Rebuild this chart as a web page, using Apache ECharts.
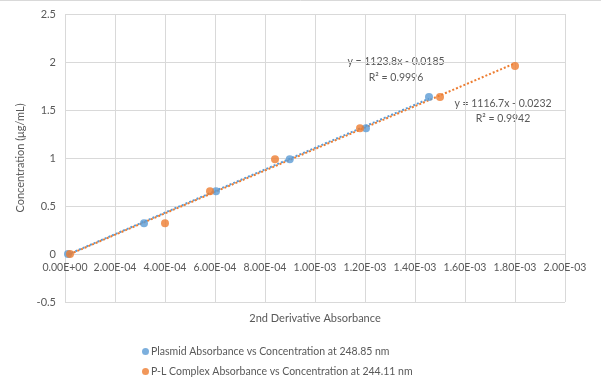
<!DOCTYPE html>
<html><head><meta charset="utf-8">
<script src="https://cdn.jsdelivr.net/npm/echarts@6/dist/echarts.min.js"></script>
<style>html,body{margin:0;padding:0;background:#fff}#c{width:601px;height:388px}</style>
</head><body><div id="c"></div>
<script>
const plasmidX = [1.2e-5, 3.16e-4, 6.04e-4, 8.99e-4, 1.204e-3, 1.456e-3];
const plasmidY = [0, 0.32, 0.654, 0.988, 1.31, 1.636];
const plX = [2.0e-5, 4.0e-4, 5.8e-4, 8.4e-4, 1.18e-3, 1.5e-3, 1.8e-3];
const plY = [0, 0.32, 0.654, 0.988, 1.31, 1.636, 1.958];
const plasmidFit = {slope: 1123.8, intercept: -0.0185, r2: '0.9996'};
const plFit = {slope: 1116.7, intercept: -0.0232, r2: '0.9942'};
const xTickLabels = ['0.00E+00','2.00E-04','4.00E-04','6.00E-04','8.00E-04','1.00E-03','1.20E-03','1.40E-03','1.60E-03','1.80E-03','2.00E-03'];
const yTickLabels = ['-0.5','0','0.5','1','1.5','2','2.5'];
const seriesNames = ['Plasmid Absorbance vs Concentration at 248.85 nm','P-L Complex Absorbance vs Concentration at 244.11 nm'];
const blue = '#5b9bd5', orange = '#ed7d31', txt = '#595959', grid = '#d9d9d9';
const FONT = 'Lato';

function pts(xs, ys){ return xs.map((x,i)=>[x, ys[i]]); }
function fitLine(xs, f){
  const a = Math.min(...xs), b = Math.max(...xs);
  return [[a, f.slope*a + f.intercept],[b, f.slope*b + f.intercept]];
}
function eq(f){ return 'y = ' + f.slope.toFixed(1) + 'x - ' + Math.abs(f.intercept).toFixed(4); }

const chart = echarts.init(document.getElementById('c'), null, {renderer:'canvas'});
chart.setOption({
  animation:false,
  backgroundColor:'#fff',
  color:[blue, orange],
  grid:{left:65, right:36, top:14, bottom:86, containLabel:false},
  xAxis:[{
    type:'value', min:0, max:0.002, interval:0.0002, offset:-48,
    axisLine:{show:true, onZero:false, lineStyle:{color:grid}},
    axisTick:{show:false},
    axisLabel:{color:txt, fontFamily:FONT, fontSize:10.5, margin:8,
      formatter:v=>xTickLabels[Math.round(v/0.0002)]},
    splitLine:{lineStyle:{color:grid}},
    name:'2nd Derivative Absorbance', nameLocation:'middle', nameGap:59,
    nameTextStyle:{color:txt, fontFamily:FONT, fontSize:11}
  }],
  yAxis:{
    type:'value', min:-0.5, max:2.5, interval:0.5,
    axisLine:{show:false}, axisTick:{show:false},
    axisLabel:{color:txt, fontFamily:FONT, fontSize:11, margin:9,
      formatter:v=>yTickLabels[Math.round((v+0.5)/0.5)]},
    splitLine:{lineStyle:{color:grid}},
    name:'Concentration (μg/mL)', nameLocation:'middle', nameGap:37, nameRotate:90,
    nameTextStyle:{color:txt, fontFamily:FONT, fontSize:11}
  },
  legend:{
    orient:'vertical', left:137, top:341, itemGap:9,
    icon:'circle', itemWidth:7, itemHeight:7,
    textStyle:{color:txt, fontFamily:FONT, fontSize:10.5, padding:[0,0,0,-3]},
    data:[{name:seriesNames[0], itemStyle:{color:blue}},{name:seriesNames[1], itemStyle:{color:orange}}]
  },
  series:[
    {name:seriesNames[0], type:'scatter', data:pts(plasmidX, plasmidY), symbolSize:8,
      itemStyle:{color:blue}, z:3},
    {name:seriesNames[1], type:'scatter', data:pts(plX, plY), symbolSize:8,
      itemStyle:{color:orange}, z:4},
    {name:seriesNames[0], type:'line', data:fitLine(plasmidX, plasmidFit), showSymbol:false, symbol:'none',
      itemStyle:{color:blue}, lineStyle:{color:blue, width:2, type:[2,2]}, z:2, silent:true},
    {name:seriesNames[1], type:'line', data:fitLine(plX, plFit), showSymbol:false, symbol:'none',
      itemStyle:{color:orange}, lineStyle:{color:orange, width:2, type:[2,2]}, z:2, silent:true}
  ],
  graphic:[
    {type:'line', shape:{x1:0,y1:0.5,x2:601,y2:0.5}, style:{stroke:grid, lineWidth:1}},
    {type:'text', x:396, y:62, style:{text:eq(plasmidFit), fill:txt, font:'10.5px '+FONT, textAlign:'center', textVerticalAlign:'middle'}},
    {type:'text', x:396, y:78, style:{text:'R² = '+plasmidFit.r2, fill:txt, font:'10.5px '+FONT, textAlign:'center', textVerticalAlign:'middle'}},
    {type:'text', x:503, y:104, style:{text:eq(plFit), fill:txt, font:'10.5px '+FONT, textAlign:'center', textVerticalAlign:'middle'}},
    {type:'text', x:503, y:119, style:{text:'R² = '+plFit.r2, fill:txt, font:'10.5px '+FONT, textAlign:'center', textVerticalAlign:'middle'}}
  ]
});
</script></body></html>
